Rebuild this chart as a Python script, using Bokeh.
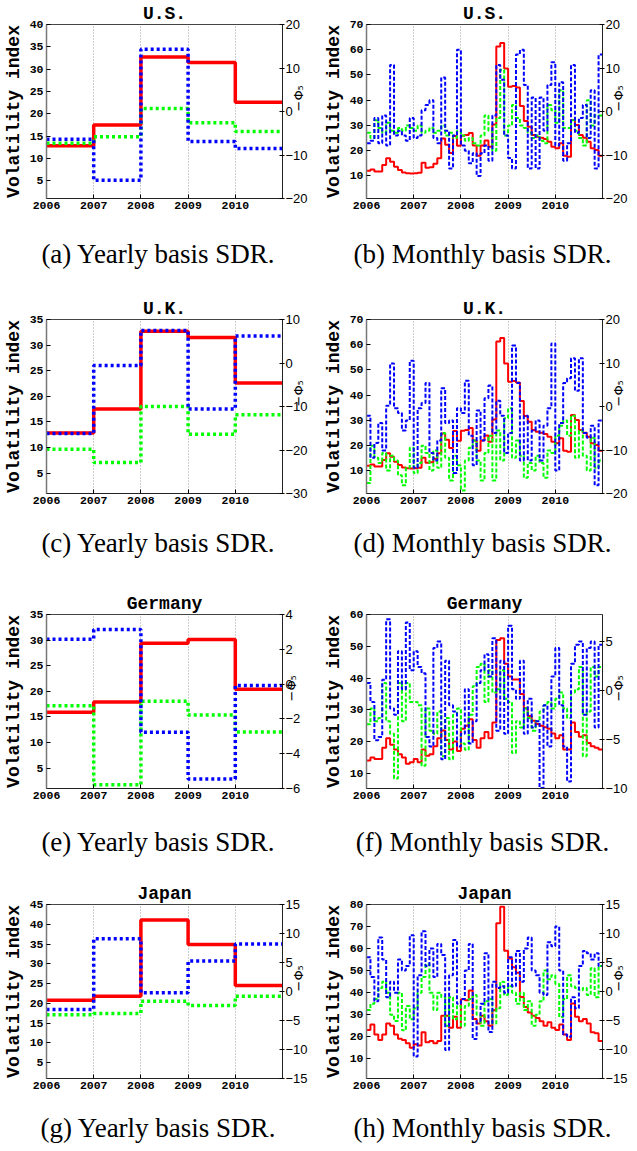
import math
from bokeh.plotting import figure
from bokeh.models import Range1d, LinearAxis, FixedTicker
from bokeh.core.properties import value
from bokeh.layouts import column, row
from bokeh.embed import file_html
from bokeh.resources import INLINE

# ---------------- data ----------------
years = [2006, 2007, 2008, 2009, 2010]
year_end = 2011
n_months = 60

# yearly (volatility index on left axis, -Phi_5 on right axis)
us_uk_vol_yearly = [12.8, 17.5, 32.7, 31.5, 22.6]
us_blue_yearly = [-6.4, -15.8, 14.3, -6.9, -8.5]
us_green_yearly = [-7.3, -5.8, 0.7, -2.6, -4.6]
uk_blue_yearly = [-16.2, -0.6, 7.5, -10.6, 6.2]
uk_green_yearly = [-19.8, -22.9, -10.0, -16.4, -11.9]
de_vol_yearly = [15.9, 17.9, 29.4, 30.1, 20.4]
de_blue_yearly = [2.58, 3.14, -2.77, -5.45, -0.08]
de_green_yearly = [-1.24, -5.79, -0.98, -1.78, -2.75]
jp_vol_yearly = [20.8, 21.8, 41.1, 34.9, 24.5]
jp_blue_yearly = [-3.1, 9.1, -0.2, 5.25, 8.2]
jp_green_yearly = [-4.0, -3.8, -1.7, -2.4, -0.8]

# monthly, Jan 2006 .. Dec 2010
us_uk_vol_monthly = [
    12.0, 12.5, 11.7, 11.7, 14.3, 17.0, 15.6, 13.6, 12.3, 11.3, 11.0, 10.9,
    11.0, 11.2, 15.2, 13.2, 13.4, 14.8, 17.0, 24.8, 22.3, 19.0, 25.8, 21.9,
    25.9, 26.2, 27.0, 22.0, 18.0, 22.0, 24.0, 21.5, 30.3, 61.3, 62.7, 52.6,
    45.3, 45.6, 45.0, 37.7, 31.7, 29.5, 26.2, 25.5, 25.1, 24.6, 23.5, 21.5,
    20.9, 22.9, 18.0, 17.6, 32.1, 30.1, 26.2, 25.1, 23.5, 20.9, 20.2, 18.0]
us_blue_monthly = [
    -7.3, -6.7, -1.5, -7.3, -0.9, -7.8, 10.7, -5.5, -4.4, -5.5, -6.7, -1.5,
    -6.1, -5.5, 0.3, 1.5, 2.6, -6.1, -7.3, 7.8, -4.4, -13.1, -5.5, 14.2,
    -7.8, -9.0, -11.9, -9.6, -14.8, -9.6, -7.8, -11.3, -0.9, 10.7, 7.3, -5.5,
    -10.7, -13.1, 13.1, 14.2, 6.1, -13.1, 3.2, -13.1, 3.2, -4.4, 6.1, 11.3,
    -7.8, 6.7, -11.3, -7.3, 10.7, -4.9, -1.5, 1.5, -6.1, 4.9, -13.1, 13.1]
us_green_monthly = [
    -4.9, -6.1, -2.0, -3.8, -4.9, -2.6, -4.4, -4.9, -3.8, -4.4, -3.2, -3.8,
    -4.4, -3.2, -4.9, -4.4, -3.8, -4.9, -4.4, -3.2, -5.5, -4.9, -6.1, -4.4,
    -5.5, -6.7, -6.1, -7.3, -7.8, -5.5, -0.9, -4.4, -9.0, -1.5, 9.6, -5.5,
    -3.2, 1.5, -1.5, -3.2, -3.8, -4.9, -6.1, -5.5, -6.7, -7.3, 1.5, 0.3,
    -2.6, 4.9, -3.8, -3.8, -2.0, -4.4, -6.1, -7.8, 2.6, -3.2, -0.9, -0.9]
uk_blue_monthly = [
    -2.1, -11.8, -8.4, -3.8, -10.1, 0.2, 9.9, -0.4, -1.5, -5.5, -3.2, 10.5,
    -14.1, -0.4, 0.8, 5.4, -10.7, -12.4, -7.8, 4.2, -3.8, -3.2, -15.3, -0.4,
    -1.5, 5.9, -6.7, -13.5, -0.9, -7.8, 1.9, 4.8, -6.1, 1.3, -2.1, -10.7,
    -6.1, 14.0, 5.4, -12.4, -2.1, -12.4, -5.5, -3.2, -12.4, -4.4, -0.4, 14.5,
    -14.7, -3.8, 5.4, 6.5, 11.1, 3.6, 11.1, -6.1, -7.2, -4.4, -18.1, -3.2]
uk_green_monthly = [
    -17.6, -9.0, -11.8, -13.0, -10.7, -14.7, -11.3, -12.4, -15.8, -18.1, -14.1, -9.5,
    -15.3, -13.0, -9.0, -10.7, -14.7, -10.1, -14.1, -6.1, -11.8, -17.0, -11.3, -13.5,
    -19.3, -12.4, -9.5, -7.8, -12.4, -17.0, -10.7, -6.7, -17.0, -5.5, -12.4, -2.7,
    -0.4, -11.8, -7.8, -11.3, -16.4, -13.0, -14.7, -11.3, -13.0, -16.4, -10.1, -10.7,
    -6.7, -4.4, -3.2, -6.7, -2.1, -11.8, -5.5, -11.3, -14.7, -7.2, -14.1, -12.4]
de_vol_monthly = [
    14.0, 15.0, 14.5, 14.5, 18.0, 21.0, 19.0, 17.5, 16.0, 15.0, 13.0, 13.5,
    14.5, 13.5, 17.5, 15.5, 16.0, 18.5, 21.0, 23.5, 20.5, 17.5, 20.0, 17.0,
    24.0, 25.0, 27.0, 20.5, 18.0, 21.0, 23.0, 21.0, 26.0, 52.0, 52.5, 44.5,
    40.5, 39.5, 39.5, 35.0, 30.5, 28.0, 26.5, 25.5, 25.0, 24.5, 24.0, 22.5,
    21.0, 22.0, 17.5, 17.5, 26.0, 23.0, 21.5, 22.0, 19.5, 18.5, 18.0, 17.5]
de_blue_monthly = [
    0.80, -1.15, -5.06, -4.73, 1.12, 7.31, -1.81, -2.46, 4.05, 0.15, 6.98, 2.10,
    4.05, 2.43, 1.78, -4.73, -5.71, 4.38, 5.03, -7.01, 3.08, -1.48, -2.13, -5.71,
    -4.41, 0.15, -5.39, -3.11, 0.80, 2.10, 3.73, 1.45, 5.36, -4.08, 3.08, -4.41,
    6.66, 0.15, -0.83, 3.08, -4.41, -0.83, -3.76, -3.11, -9.94, -1.48, -5.71, 1.45,
    4.38, -1.48, -5.71, -9.29, 2.75, 4.71, 5.03, -2.46, 4.38, 5.03, -3.76, 4.71]
de_green_monthly = [
    -3.43, -1.81, -3.11, -2.78, 0.80, -3.11, -4.41, -8.97, 0.80, -3.11, 0.80, -1.15,
    -1.15, -1.48, -7.66, -1.81, -4.08, -4.41, -2.13, -6.69, -2.78, -7.01, -2.46, -1.81,
    -5.39, -6.04, -2.46, 0.47, 2.43, 2.75, -1.15, 2.10, -0.18, 0.15, 2.10, -0.83,
    -1.15, -6.36, -3.11, -3.76, -1.81, -2.78, -4.08, -3.11, -2.13, -1.48, -1.15, -1.81,
    -0.83, -0.18, -1.81, -2.78, -0.18, 0.15, 2.43, -6.69, -2.13, 2.43, 1.45, 2.43]
jp_vol_monthly = [
    23.0, 25.5, 21.0, 18.5, 21.0, 26.0, 25.0, 21.0, 19.0, 18.5, 17.0, 15.0,
    16.5, 16.0, 22.0, 17.5, 18.0, 17.0, 18.0, 29.5, 29.5, 24.0, 29.0, 24.0,
    37.0, 36.5, 41.0, 28.0, 26.0, 29.5, 27.0, 25.0, 32.0, 71.5, 79.0, 59.0,
    55.5, 51.5, 49.0, 38.0, 33.5, 31.0, 29.5, 28.5, 27.0, 25.0, 26.5, 24.0,
    23.0, 25.5, 21.0, 18.5, 35.0, 29.0, 27.0, 28.0, 26.0, 22.0, 21.5, 18.0]
jp_blue_monthly = [
    5.9, 2.5, -1.7, 9.3, 5.5, -1.0, 1.7, -0.2, 5.5, 3.6, 4.4, 9.7,
    -11.2, 2.8, 10.4, 4.4, 7.4, 2.5, 8.2, 6.3, -10.1, 2.8, 8.9, -2.1,
    -1.3, 3.6, 8.2, -8.2, -5.1, -2.1, 6.6, -7.0, 1.7, 0.6, 0.9, -0.2,
    5.9, 0.9, 7.0, 1.7, 7.4, 9.3, 3.6, 2.8, -0.2, -0.6, 8.5, 7.8,
    11.2, 3.6, -7.4, -7.8, -1.0, -2.9, 4.4, 7.0, 6.6, 5.5, 6.6, 4.4]
jp_green_monthly = [
    -3.2, -2.1, -1.3, 0.6, 1.7, -0.2, -4.0, -5.1, -0.2, -6.7, -2.5, -4.8,
    -2.9, -0.2, 2.5, 4.7, -0.2, -3.2, -0.2, -1.0, -5.9, -1.0, -4.8, -2.5,
    -5.9, -2.5, -1.3, -0.6, -4.0, -5.9, -1.7, -1.3, -5.5, -2.9, 1.7, -0.6,
    0.9, -0.2, -2.1, -0.2, -3.2, -1.7, -5.9, -4.0, -1.7, 3.6, 2.1, 2.8,
    1.3, -4.4, -1.3, 2.8, 0.9, 0.6, 0.2, 0.6, -0.6, 4.0, -1.0, 4.4]

countries = ["U.S.", "U.K.", "Germany", "Japan"]
captions_yearly = ["(a) Yearly basis SDR.", "(c) Yearly basis SDR.",
                   "(e) Yearly basis SDR.", "(g) Yearly basis SDR."]
captions_monthly = ["(b) Monthly basis SDR.", "(d) Monthly basis SDR.",
                    "(f) Monthly basis SDR.", "(h) Monthly basis SDR."]

# ---------------- styling / layout ----------------
RED, BLUE, GREEN = "#ff0000", "#0000ff", "#00ff00"
FRAME_W = 236
FRAME_H = 174
BORDER_L = [40, 44]
BORDER_R = [38, 27]
FIG_W = [BORDER_L[0] + FRAME_W + BORDER_R[0], BORDER_L[1] + FRAME_W + BORDER_R[1]]
ROW_TOP = [16, 27, 27, 27]
ROW_BOTTOM = 20
CAP_H = [74, 74, 69, 45]          # caption strip heights
CAP_BASE = [39, 45, 36, 16]       # text anchor height above strip bottom
CAP_X = [158, 168]
MONO = "Liberation Mono"


def minus(t):
    return ("\u2212%g" % -t) if t < 0 else ("%g" % t)


def step_xy(xs_start, vals, x_end):
    return list(xs_start) + [x_end], list(vals) + [vals[-1]]


def make_panel(title, xs, red, blue, green, left_rng, left_ticks,
               right_rng, right_ticks, monthly, row_idx, col_idx):
    p = figure(frame_width=FRAME_W, frame_height=FRAME_H,
               x_range=Range1d(2006, year_end), y_range=Range1d(*left_rng),
               output_backend="svg", toolbar_location=None,
               min_border_left=BORDER_L[col_idx],
               min_border_right=BORDER_R[col_idx],
               min_border_top=ROW_TOP[row_idx],
               min_border_bottom=ROW_BOTTOM,
               background_fill_color="white", border_fill_color="white")
    p.extra_y_ranges = {"phi": Range1d(*right_rng)}

    # title
    p.title.text = title
    p.title.align = "center"
    p.title.text_font = MONO
    p.title.text_font_size = "18px"
    p.title.text_font_style = "bold"
    p.title.text_color = "#000000"
    p.title.standoff = 2

    p.outline_line_color = "#444444"
    p.outline_line_width = 1

    # x axis
    xa = p.xaxis[0]
    xa.ticker = FixedTicker(ticks=years)
    xa.major_label_overrides = {y: str(y) for y in years}
    # y left
    ya = p.yaxis[0]
    ya.ticker = FixedTicker(ticks=left_ticks)
    ya.axis_label = "Volatility index"
    ya.axis_label_text_font = MONO
    ya.axis_label_text_font_size = "18px"
    ya.axis_label_text_font_style = "bold"
    ya.axis_label_text_color = "#000000"
    ya.axis_label_standoff = 3
    for ax in (xa, ya):
        ax.major_label_text_font = MONO
        ax.major_label_text_font_size = "11.5px"
        ax.major_label_text_font_style = "bold"
        ax.major_label_text_color = "#000000"
        ax.major_tick_in = 4
        ax.major_tick_out = 0
        ax.major_label_standoff = 3
        ax.minor_tick_line_color = None
        ax.axis_line_color = "#222222"
    ya.axis_line_color = "#777777"
    ya.axis_line_width = 1.5

    # right axis
    ra = LinearAxis(y_range_name="phi", ticker=FixedTicker(ticks=right_ticks))
    ra.major_label_overrides = {t: minus(t) for t in right_ticks}
    ra.major_label_text_font = "Liberation Sans"
    ra.major_label_text_font_size = "13px"
    ra.major_label_text_color = "#000000"
    ra.major_tick_in = 3
    ra.major_tick_out = 2
    ra.major_label_standoff = 1
    ra.minor_tick_line_color = None
    ra.axis_line_color = "#222222"
    ra.axis_label = "\u2212\u03a6\u2085"
    ra.axis_label_text_font = "DejaVu Sans"
    ra.axis_label_text_font_size = "13px"
    ra.axis_label_text_font_style = "normal"
    ra.axis_label_text_color = "#000000"
    ra.axis_label_standoff = -12
    ra.axis_label_orientation = math.pi / 2
    p.add_layout(ra, "right")

    # grid
    p.xgrid.ticker = FixedTicker(ticks=years)
    p.xgrid.grid_line_color = "#9a9a9a"
    p.xgrid.grid_line_dash = "1 2"
    p.xgrid.grid_line_width = 1
    p.ygrid.visible = False

    # series
    x_s, y_r = step_xy(xs, red, year_end)
    _, y_b = step_xy(xs, blue, year_end)
    _, y_g = step_xy(xs, green, year_end)
    if monthly:
        lw, lw_d = 2, 2
        dash_b = "4 2"
        dash_g = "4 2"
    else:
        lw, lw_d = 3.5, 3.5
        dash_b = "3 3"
        dash_g = "3 3"
    p.step(x_s, y_r, mode="after", line_color=RED, line_width=lw)
    p.step(x_s, y_g, mode="after", line_color=GREEN, line_width=lw_d,
           line_dash=dash_g, y_range_name="phi")
    p.step(x_s, y_b, mode="after", line_color=BLUE, line_width=lw_d,
           line_dash=dash_b, y_range_name="phi")
    return p


def make_caption(text, row_idx, col_idx):
    w, h = FIG_W[col_idx], CAP_H[row_idx]
    c = figure(width=w, height=h, x_range=Range1d(0, w), y_range=Range1d(0, h),
               x_axis_type=None, y_axis_type=None, min_border=0,
               output_backend="svg", toolbar_location=None,
               background_fill_color="white", border_fill_color="white")
    c.outline_line_color = None
    c.grid.visible = False
    c.text(x=[CAP_X[col_idx]], y=[CAP_BASE[row_idx]], text=[text],
           text_font=value("Liberation Serif"), text_font_size="27px",
           text_align="center", text_baseline="alphabetic",
           text_color="#000000")
    return c


month_x = [2006 + i / 12 for i in range(n_months)]

yearly_specs = [
    (us_uk_vol_yearly, us_blue_yearly, us_green_yearly, (1, 40), [5, 10, 15, 20, 25, 30, 35, 40], (-20, 20), [-20, -10, 0, 10, 20]),
    (us_uk_vol_yearly, uk_blue_yearly, uk_green_yearly, (1, 35), [5, 10, 15, 20, 25, 30, 35], (-30, 10), [-30, -20, -10, 0, 10]),
    (de_vol_yearly, de_blue_yearly, de_green_yearly, (1, 35), [5, 10, 15, 20, 25, 30, 35], (-6, 4), [-6, -4, -2, 0, 2, 4]),
    (jp_vol_yearly, jp_blue_yearly, jp_green_yearly, (1, 45), [5, 10, 15, 20, 25, 30, 35, 40, 45], (-15, 15), [-15, -10, -5, 0, 5, 10, 15]),
]
monthly_specs = [
    (us_uk_vol_monthly, us_blue_monthly, us_green_monthly, (1, 70), [10, 20, 30, 40, 50, 60, 70], (-20, 20), [-20, -10, 0, 10, 20]),
    (us_uk_vol_monthly, uk_blue_monthly, uk_green_monthly, (1, 70), [10, 20, 30, 40, 50, 60, 70], (-20, 20), [-20, -10, 0, 10, 20]),
    (de_vol_monthly, de_blue_monthly, de_green_monthly, (5.2, 60), [10, 20, 30, 40, 50, 60], (-10, 7.8), [-10, -5, 0, 5]),
    (jp_vol_monthly, jp_blue_monthly, jp_green_monthly, (1, 80), [10, 20, 30, 40, 50, 60, 70, 80], (-15, 15), [-15, -10, -5, 0, 5, 10, 15]),
]

blocks = []
for k in range(4):
    ry, by, gy, lr, lt, rr, rt = yearly_specs[k]
    pa = make_panel(countries[k], years, ry, by, gy, lr, lt, rr, rt, False, k, 0)
    rm, bm, gm, lr2, lt2, rr2, rt2 = monthly_specs[k]
    pb = make_panel(countries[k], month_x, rm, bm, gm, lr2, lt2, rr2, rt2, True, k, 1)
    blocks.append(row(pa, pb))
    blocks.append(row(make_caption(captions_yearly[k], k, 0),
                      make_caption(captions_monthly[k], k, 1)))

layout = column(*blocks)
open("out.html", "w").write(file_html(layout, INLINE, "Volatility index vs -Phi5"))
